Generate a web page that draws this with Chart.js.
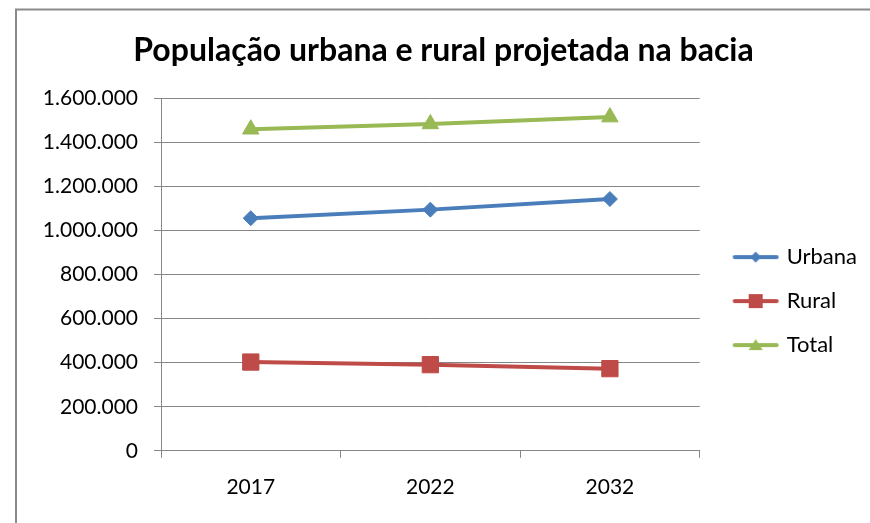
<!DOCTYPE html>
<html>
<head>
<meta charset="utf-8">
<script src="https://cdn.jsdelivr.net/npm/chart.js@4.4.1/dist/chart.umd.min.js"></script>
<style>
html,body{margin:0;padding:0;background:#fff;}
#wrap{position:relative;width:870px;height:523px;}
</style>
</head>
<body>
<div id="wrap"><canvas id="c" width="870" height="523"></canvas></div>
<script>
const categories = ['2017', '2022', '2032'];
const urbana = [1056000, 1095000, 1143000];
const rural = [403000, 391000, 373000];
const total = [1460000, 1484000, 1515000];
const seriesNames = ['Urbana', 'Rural', 'Total'];
const yTicks = [0, 200000, 400000, 600000, 800000, 1000000, 1200000, 1400000, 1600000];
const titleText = 'População urbana e rural projetada na bacia';

const colors = ['#4A7EBB', '#BE4B48', '#98B954'];
const styles = ['rectRot', 'rect', 'triangle'];

function fmt(v) {
  return String(Math.round(v)).replace(/\B(?=(\d{3})+(?!\d))/g, '.');
}

function legendIcon(color, style) {
  const c = document.createElement('canvas');
  c.width = 64; c.height = 22;
  const g = c.getContext('2d');
  g.strokeStyle = color; g.lineWidth = 4; g.lineCap = 'round';
  g.beginPath(); g.moveTo(18, 11); g.lineTo(60, 11); g.stroke();
  g.fillStyle = color;
  const cx = 39, cy = 11;
  g.beginPath();
  if (style === 'rectRot') {
    g.moveTo(cx, cy - 5.5); g.lineTo(cx + 5.5, cy); g.lineTo(cx, cy + 5.5); g.lineTo(cx - 5.5, cy);
  } else if (style === 'rect') {
    g.rect(cx - 7, cy - 7, 14, 14);
  } else {
    g.moveTo(cx, cy - 6); g.lineTo(cx + 7, cy + 5); g.lineTo(cx - 7, cy + 5);
  }
  g.closePath(); g.fill();
  return c;
}

const frame = {
  id: 'frame',
  afterDraw(chart) {
    const ctx = chart.ctx;
    ctx.save();
    ctx.strokeStyle = '#8A8A8A';
    ctx.lineWidth = 2;
    ctx.beginPath();
    ctx.moveTo(16, 523); ctx.lineTo(16, 9.5); ctx.lineTo(870, 9.5);
    ctx.stroke();
    ctx.restore();
  }
};

const font = 'Lato, "Open Sans", sans-serif';
const dataSets = [urbana, rural, total];
const radii = [7.5, 11.5, 9.5];

new Chart(document.getElementById('c'), {
  type: 'line',
  data: {
    labels: categories,
    datasets: dataSets.map((d, i) => ({
      label: seriesNames[i],
      data: d,
      borderColor: colors[i],
      backgroundColor: colors[i],
      borderWidth: 4,
      pointStyle: styles[i],
      pointRadius: radii[i],
      pointHoverRadius: radii[i],
      pointBorderWidth: 1,
      pointBackgroundColor: colors[i],
      pointBorderColor: colors[i],
      tension: 0
    }))
  },
  plugins: [frame],
  options: {
    responsive: false,
    animation: false,
    devicePixelRatio: 1,
    layout: { padding: { left: 20, right: 3, top: 10, bottom: 6 } },
    plugins: {
      title: {
        display: true,
        text: titleText,
        color: '#000',
        font: { family: font, size: 32, weight: 'bold' },
        padding: { top: 21, bottom: 29 }
      },
      legend: {
        position: 'right',
        title: {
          display: true,
          text: ' ',
          font: { family: font, size: 1 },
          padding: { top: 74, bottom: 0 }
        },
        labels: {
          usePointStyle: true,
          pointStyleWidth: 54,
          boxHeight: 22,
          padding: 22,
          color: '#000',
          font: { family: font, size: 22 },
          generateLabels(chart) {
            return chart.data.datasets.map((ds, i) => ({
              text: ds.label,
              fillStyle: colors[i],
              strokeStyle: colors[i],
              lineWidth: 0,
              pointStyle: legendIcon(colors[i], styles[i]),
              datasetIndex: i,
              hidden: false,
              fontColor: '#000'
            }));
          }
        }
      },
      tooltip: { enabled: false }
    },
    scales: {
      x: {
        offset: true,
        grid: {
          offset: true,
          drawOnChartArea: false,
          drawTicks: true,
          tickLength: 7,
          color: '#868686'
        },
        border: { display: true, color: '#868686', width: 1 },
        ticks: {
          color: '#000',
          padding: 17,
          font: { family: font, size: 21 }
        }
      },
      y: {
        min: 0,
        max: 1600000,
        afterBuildTicks(scale) { scale.ticks = yTicks.map(v => ({ value: v })); },
        afterFit(scale) { scale.width = 141; },
        grid: {
          color: '#868686',
          tickLength: 7,
          drawTicks: true
        },
        border: { display: true, color: '#868686', width: 1 },
        ticks: {
          color: '#000',
          padding: 16,
          font: { family: font, size: 21 },
          callback: v => fmt(v)
        }
      }
    }
  }
});
</script>
</body>
</html>
